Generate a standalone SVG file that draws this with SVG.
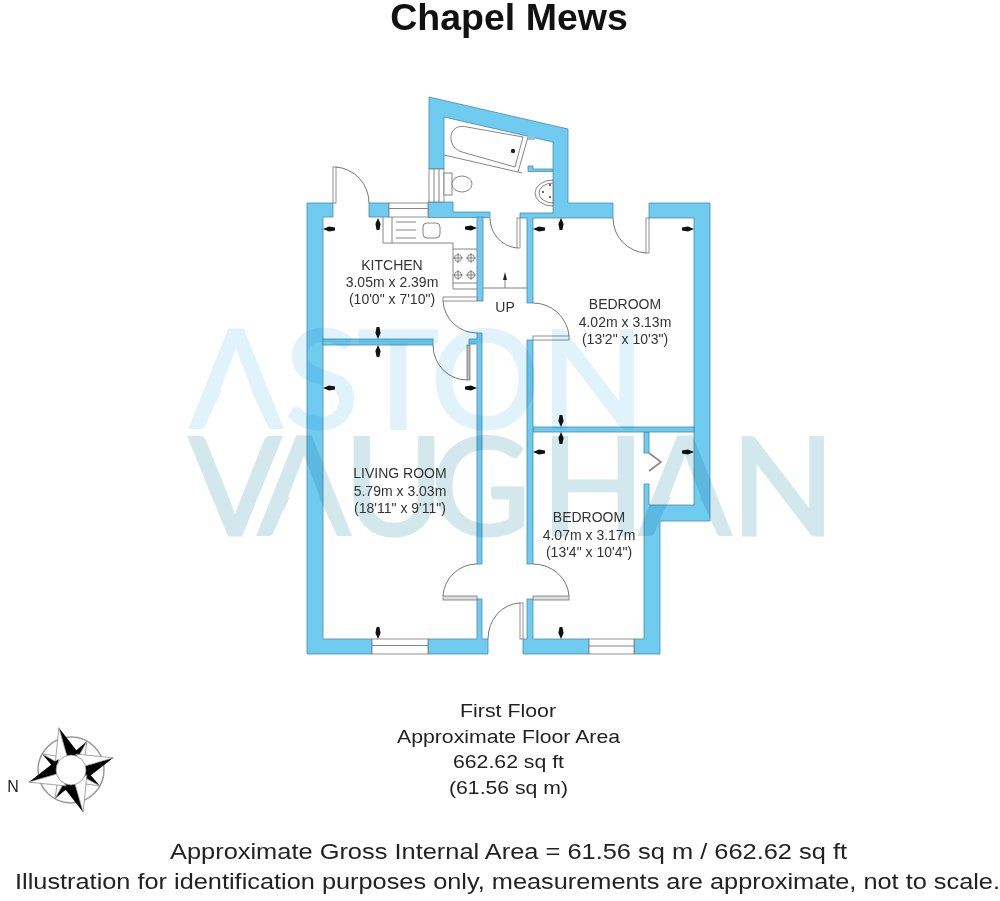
<svg xmlns="http://www.w3.org/2000/svg" xmlns:xlink="http://www.w3.org/1999/xlink" width="1000" height="901" viewBox="0 0 1000 901">
<style>
.w{fill:#6fcbf0;stroke:#4a8aa8;stroke-width:.8}
.win{fill:#fff;stroke:#777;stroke-width:.8}
.fx{fill:#fff;stroke:#777;stroke-width:.9}
.ln{fill:none;stroke:#777;stroke-width:.9}
.arc{fill:none;stroke:#666;stroke-width:.9}
.leaf{fill:#fff;stroke:#777;stroke-width:.8}
.t{font-family:"Liberation Sans",Arial,sans-serif;fill:#333;text-anchor:middle;font-size:14px}
.c{font-family:"Liberation Sans",Arial,sans-serif;fill:#222;text-anchor:middle;font-size:18.500px}
.b{font-family:"Liberation Sans",Arial,sans-serif;fill:#222;text-anchor:middle;font-size:22px}
.wm{font-family:Lato,"Open Sans",sans-serif;font-size:136px;font-weight:400;stroke-width:3px;mix-blend-mode:multiply}
</style>
<defs>
<path id="tk" d="M0,0L6,-2.6L12,-1.4V1.4L6,2.6Z" fill="#111"/>
<g id="pm"><path d="M0,-44L14,-9L0,-14Z" fill="#000"/><path d="M0,-44L-14,-9L0,-14Z" fill="#fff" stroke="#888" stroke-width=".7"/></g>
<g id="ps"><path d="M0,-33L-8,-12L0,-15Z" fill="#000"/><path d="M0,-33L8,-12L0,-15Z" fill="#fff" stroke="#888" stroke-width=".7"/></g>
<clipPath id="clipA"><path clip-rule="evenodd" d="M0,0H1000V901H0ZM236.500,358L203.500,430H269.500ZM304.500,465L271.500,537H337.500ZM685.500,465L652.500,537H718.500Z"/></clipPath>
</defs>
<rect width="1000" height="901" fill="#fff"/>
<g id="walls">
<path class="w" d="M333,203H307V654H372V639H323V217H333Z"/>
<rect class="w" x="369" y="203" width="20" height="14"/>
<path class="w" d="M428,217V202H453V212H490V217.5H428Z"/>
<path class="w" d="M429,169V97L568,129V203H613V218H533V303H527V218H520V213H553V142L444,117V169Z"/>
<path class="w" d="M528,166H533V169H553V171.5H528Z"/>
<path class="w" d="M649,203H710V521H660V654H634V639H644V484H649V505H694V218H649Z"/>
<rect class="w" x="644" y="432" width="5" height="21"/>
<rect class="w" x="533" y="427" width="161" height="5"/>
<rect class="w" x="527" y="340" width="6" height="224"/>
<path class="w" d="M527,599H533V639H589V654H523V639H527Z"/>
<path class="w" d="M469,344V339H477V333H482V564H477V344Z"/>
<path class="w" d="M428,654H488V639H482V599H477V639H428Z"/>
<rect class="w" x="323" y="339" width="110" height="6"/>
<rect class="w" x="477" y="217" width="6" height="84"/>
</g>
<g id="windows">
<rect class="win" x="389" y="203" width="39" height="14"/><path class="ln" d="M389,208.500H428"/>
<rect class="win" x="429" y="169" width="15" height="33"/><path class="ln" d="M434,169V202M439,169V202"/>
<rect class="win" x="372" y="639" width="56" height="15"/><path class="ln" d="M372,645.500H428"/>
<rect class="win" x="589" y="639" width="45" height="15"/><path class="ln" d="M589,646H634"/>
</g>
<g id="doors">
<rect class="leaf" x="333" y="167" width="3" height="36"/><path class="arc" d="M336,167A36,36 0 0 1 369,203"/>
<rect class="leaf" x="443" y="297" width="34" height="4"/><path class="arc" d="M443,301A34,34 0 0 0 477,333"/>
<rect class="leaf" x="646" y="218" width="3" height="35"/><path class="arc" d="M613,218A35,35 0 0 0 646,253"/>
<rect class="leaf" x="533" y="336" width="36" height="4"/><path class="arc" d="M533,303A36,36 0 0 1 569,336"/>
<rect class="leaf" x="517" y="218" width="3" height="30"/><path class="arc" d="M490,218A30,30 0 0 0 517,248"/>
<rect class="leaf" x="467" y="345" width="3" height="35" style="fill:#bbb"/><path class="arc" d="M433,345A34,35 0 0 0 467,380"/>
<rect class="leaf" x="443" y="596" width="34" height="4" style="fill:#ddd"/><path class="arc" d="M477,564A34,34 0 0 0 443,596"/>
<rect class="leaf" x="533" y="596" width="36" height="4" style="fill:#ddd"/><path class="arc" d="M533,564A36,34 0 0 1 569,596"/>
<rect class="leaf" x="520" y="603" width="3" height="36"/><path class="arc" d="M488,639A33,36 0 0 1 520,603"/>
<path d="M649,453L661,462L649,471" fill="none" stroke="#888" stroke-width="1.600"/>
</g>
<g id="stairs">
<path class="ln" d="M483,288H527M505,288V276"/><path d="M505,272L503,280H507Z" fill="#222"/>
</g>
<g id="kitchen-units">
<path class="ln" d="M383,217V243H453V289H477M392,217V243"/>
<path class="ln" d="M396,222H416M396,230H416M396,238H416"/>
<rect class="ln" x="423" y="223" width="17" height="15" rx="4"/>
<path class="ln" d="M453,249H477M453,283H477"/>
<g class="ln"><circle cx="458" cy="258" r="3.500"/><circle cx="471" cy="258" r="3.500"/><circle cx="458" cy="275" r="3.500"/><circle cx="471" cy="275" r="3.500"/>
<path d="M453,258H463M458,253V263M466,258H476M471,253V263M453,275H463M458,270V280M466,275H476M471,270V280"/></g>
</g>
<g id="bathroom-fittings">
<path class="ln" d="M444,155L522,173M528,137L518,172M523,137L515,167L462,152C446,148 447,122 467,127Z"/>
<circle cx="513" cy="151" r="2.200" fill="#222"/>
<rect x="528" y="136" width="7" height="4" fill="#8fc4dc"/>
<rect class="fx" x="444" y="173" width="8" height="22"/>
<ellipse class="fx" cx="462" cy="184" rx="10" ry="8"/>
<path class="fx" d="M553,180A18,13 0 0 0 553,206Z"/>
<path class="ln" d="M553,183A14,10 0 0 0 553,203"/>
<circle cx="543" cy="192" r="1" fill="#333"/><circle cx="550" cy="185" r="1" fill="#333"/><circle cx="550" cy="197" r="1" fill="#333"/>
</g>
<g id="watermark">
<text class="wm" y="428" fill="#e0f3fa" stroke="#e0f3fa" clip-path="url(#clipA)"><tspan x="190">A</tspan><tspan x="285">S</tspan><tspan x="358">T</tspan><tspan x="431">O</tspan><tspan x="541">N</tspan></text>
<text class="wm" y="535" fill="#d3e8ec" stroke="#d3e8ec" clip-path="url(#clipA)"><tspan x="189">V</tspan><tspan x="258">A</tspan><tspan x="344">U</tspan><tspan x="431">G</tspan><tspan x="541">H</tspan><tspan x="639">A</tspan><tspan x="731">N</tspan></text>
</g>
<g id="dimension-ticks">
<use href="#tk" transform="translate(323,229)"/>
<use href="#tk" transform="translate(378,218) rotate(90)"/>
<use href="#tk" transform="translate(477,228) rotate(180)"/>
<use href="#tk" transform="translate(378,339) rotate(-90)"/>
<use href="#tk" transform="translate(378,345) rotate(90)"/>
<use href="#tk" transform="translate(323,388)"/>
<use href="#tk" transform="translate(477,388) rotate(180)"/>
<use href="#tk" transform="translate(378,639) rotate(-90)"/>
<use href="#tk" transform="translate(533,229)"/>
<use href="#tk" transform="translate(561,218) rotate(90)"/>
<use href="#tk" transform="translate(694,229) rotate(180)"/>
<use href="#tk" transform="translate(561,427) rotate(-90)"/>
<use href="#tk" transform="translate(561,432) rotate(90)"/>
<use href="#tk" transform="translate(533,452)"/>
<use href="#tk" transform="translate(694,452) rotate(180)"/>
<use href="#tk" transform="translate(561,639) rotate(-90)"/>
</g>
<g id="room-kitchen"><text class="t" x="392" y="270">KITCHEN</text><text class="t" x="392" y="287">3.05m x 2.39m</text><text class="t" x="392" y="304">(10'0" x 7'10")</text></g>
<g id="room-hall"><text class="t" x="505" y="312">UP</text></g>
<g id="room-bedroom-1"><text class="t" x="625" y="309">BEDROOM</text><text class="t" x="625" y="327">4.02m x 3.13m</text><text class="t" x="625" y="344">(13'2" x 10'3")</text></g>
<g id="room-living"><text class="t" x="400" y="478">LIVING ROOM</text><text class="t" x="400" y="496">5.79m x 3.03m</text><text class="t" x="400" y="513">(18'11" x 9'11")</text></g>
<g id="room-bedroom-2"><text class="t" x="589" y="522">BEDROOM</text><text class="t" x="589" y="540">4.07m x 3.17m</text><text class="t" x="589" y="557">(13'4" x 10'4")</text></g>
<g id="compass">
<circle cx="71" cy="770" r="33" fill="#fff" stroke="#999" stroke-width="1.500"/>
<use href="#ps" transform="translate(71,770) rotate(29)"/><use href="#ps" transform="translate(71,770) rotate(119)"/><use href="#ps" transform="translate(71,770) rotate(209)"/><use href="#ps" transform="translate(71,770) rotate(299)"/>
<use href="#pm" transform="translate(71,770) rotate(-16)"/><use href="#pm" transform="translate(71,770) rotate(74)"/><use href="#pm" transform="translate(71,770) rotate(164)"/><use href="#pm" transform="translate(71,770) rotate(254)"/>
<circle cx="71" cy="770" r="15" fill="#fff" stroke="#888" stroke-width=".8"/>
<text x="13" y="792" style="font-family:'Liberation Sans',Arial,sans-serif;font-size:16px;fill:#222;text-anchor:middle">N</text>
</g>
<g id="captions">
<text x="509" y="30" style="font-family:'Liberation Sans',Arial,sans-serif;font-size:37.500px;font-weight:700;fill:#111;text-anchor:middle">Chapel Mews</text>
<text class="c" x="508" y="717" textLength="96" lengthAdjust="spacingAndGlyphs">First Floor</text>
<text class="c" x="508.500" y="743" textLength="223" lengthAdjust="spacingAndGlyphs">Approximate Floor Area</text>
<text class="c" x="508.500" y="768" textLength="111" lengthAdjust="spacingAndGlyphs">662.62 sq ft</text>
<text class="c" x="508.500" y="794" textLength="119" lengthAdjust="spacingAndGlyphs">(61.56 sq m)</text>
<text class="b" x="508.500" y="859" textLength="677" lengthAdjust="spacingAndGlyphs">Approximate Gross Internal Area = 61.56 sq m / 662.62 sq ft</text>
<text class="b" x="507.500" y="889" textLength="985" lengthAdjust="spacingAndGlyphs">Illustration for identification purposes only, measurements are approximate, not to scale.</text>
</g>
</svg>
